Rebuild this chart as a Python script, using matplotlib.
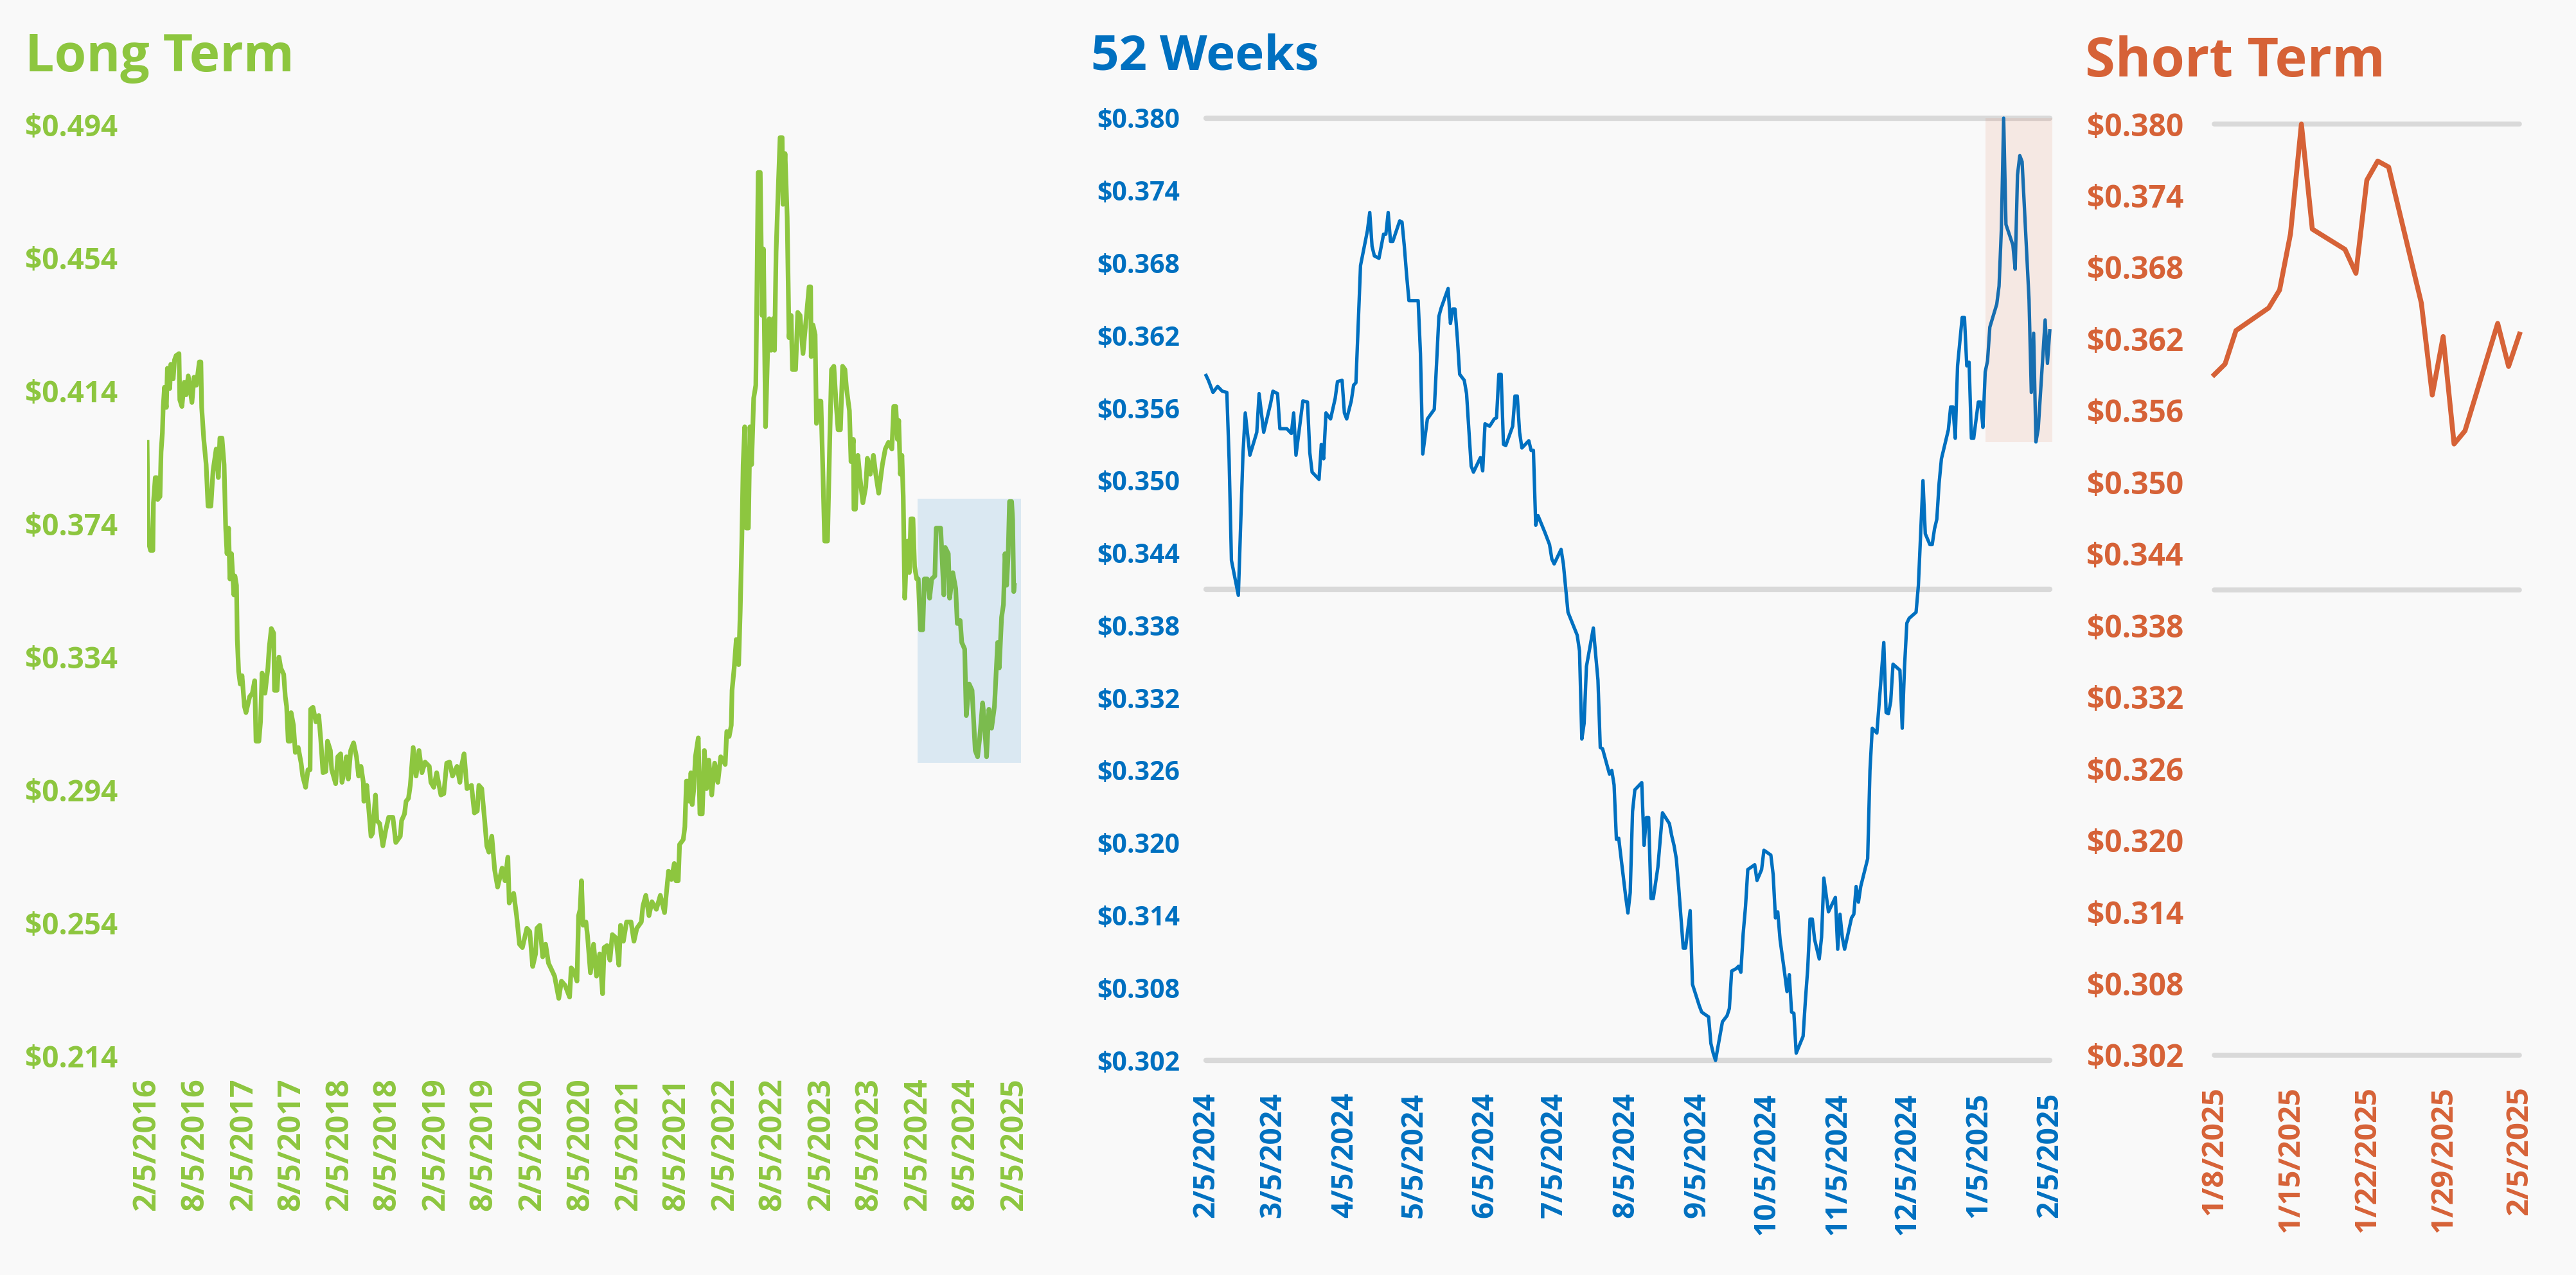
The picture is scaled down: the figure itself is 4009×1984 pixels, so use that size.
import matplotlib
matplotlib.use("Agg")
from matplotlib import pyplot as plt
import pandas as pd

GREEN = "#8DC63F"
BLUE = "#0070C0"
ORANGE = "#D66237"
GRID = "#D9D9D9"
BG = "#F9F9F9"

plt.rcParams['font.family'] = ['Open Sans', 'DejaVu Sans']
plt.rcParams['font.weight'] = 'bold'

# ---- long term: days after 2/5/2016 and price ----
lt_start = "2016-02-05"
lt_day = [0, 3, 7, 13, 22, 24, 31, 36, 40, 49, 53, 58, 61, 66, 73, 77, 86, 90, 99, 104,
          110, 121, 124, 132, 141, 148, 156, 170, 178, 187, 198, 204, 207, 215, 224, 231, 242, 250, 262, 270,
          276, 284, 292, 298, 303, 309, 314, 320, 329, 333, 339, 342, 347, 353, 360, 369, 375, 389, 399, 408,
          413, 424, 430, 436, 447, 458, 463, 471, 480, 483, 493, 500, 507, 518, 524, 529, 535, 543, 546, 555,
          562, 573, 584, 590, 601, 610, 618, 620, 629, 640, 651, 658, 667, 678, 684, 695, 700, 715, 723, 734,
          739, 748, 756, 763, 772, 783, 794, 802, 811, 820, 822, 833, 841, 849, 855, 866, 871, 882, 894, 905,
          916, 932, 943, 960, 965, 976, 982, 991, 998, 1009, 1020, 1031, 1042, 1054, 1070, 1076, 1087, 1098, 1114, 1125,
          1136, 1147, 1158, 1175, 1186, 1192, 1202, 1213, 1230, 1241, 1252, 1258, 1269, 1280, 1288, 1296, 1307, 1318, 1329, 1346,
          1357, 1368, 1373, 1390, 1401, 1412, 1423, 1440, 1451, 1462, 1473, 1478, 1489, 1500, 1511, 1522, 1534, 1545, 1561, 1571,
          1585, 1602, 1608, 1619, 1630, 1636, 1642, 1647, 1653, 1664, 1670, 1681, 1693, 1704, 1716, 1727, 1733, 1744, 1755, 1764,
          1778, 1789, 1795, 1806, 1818, 1835, 1846, 1857, 1874, 1880, 1891, 1903, 1914, 1931, 1946, 1962, 1969, 1977, 1988, 1999,
          2005, 2014, 2019, 2033, 2039, 2045, 2050, 2056, 2062, 2067, 2073, 2079, 2090, 2096, 2105, 2113, 2121, 2130, 2141, 2152,
          2164, 2175, 2184, 2192, 2198, 2207, 2215, 2218, 2226, 2234, 2243, 2249, 2255, 2260, 2266, 2272, 2280, 2286, 2292, 2300,
          2308, 2311, 2317, 2325, 2332, 2337, 2345, 2353, 2359, 2366, 2374, 2379, 2385, 2391, 2400, 2408, 2411, 2419, 2427, 2434,
          2442, 2447, 2459, 2467, 2476, 2487, 2498, 2510, 2516, 2518, 2525, 2533, 2538, 2547, 2555, 2563, 2569, 2580, 2589, 2595,
          2604, 2612, 2620, 2629, 2637, 2646, 2652, 2663, 2669, 2678, 2680, 2686, 2695, 2703, 2714, 2725, 2731, 2742, 2754, 2763,
          2774, 2788, 2799, 2811, 2824, 2831, 2839, 2845, 2850, 2856, 2862, 2867, 2873, 2879, 2884, 2890, 2896, 2904, 2910, 2918,
          2924, 2932, 2941, 2947, 2958, 2967, 2975, 2987, 2992, 3009, 3021, 3026, 3038, 3043, 3055, 3066, 3072, 3083, 3089, 3100,
          3106, 3117, 3128, 3140, 3149, 3157, 3168, 3174, 3183, 3192, 3202, 3213, 3225, 3231, 3240, 3247, 3253, 3259, 3265, 3270,
          3278, 3282, 3286, 3288]
lt_val = [0.3985, 0.3784, 0.3679, 0.3660, 0.3660, 0.3803, 0.3879, 0.3879, 0.3813, 0.3822, 0.3956, 0.4013, 0.4090, 0.4151, 0.4090, 0.4208, 0.4147, 0.4220, 0.4176, 0.4233,
          0.4246, 0.4252, 0.4113, 0.4093, 0.4166, 0.4128, 0.4185, 0.4105, 0.4181, 0.4157, 0.4227, 0.4227, 0.4090, 0.3994, 0.3918, 0.3793, 0.3793, 0.3899, 0.3965, 0.3879,
          0.3998, 0.3998, 0.3918, 0.3727, 0.3650, 0.3727, 0.3574, 0.3650, 0.3526, 0.3583, 0.3555, 0.3392, 0.3297, 0.3258, 0.3283, 0.3191, 0.3172, 0.3220, 0.3230, 0.3268,
          0.3086, 0.3086, 0.3144, 0.3291, 0.3230, 0.3306, 0.3367, 0.3425, 0.3411, 0.3239, 0.3239, 0.3339, 0.3306, 0.3287, 0.3220, 0.3191, 0.3086, 0.3086, 0.3172, 0.3134,
          0.3052, 0.3067, 0.3020, 0.2981, 0.2947, 0.3000, 0.3000, 0.3182, 0.3188, 0.3144, 0.3163, 0.3096, 0.2991, 0.2995, 0.3086, 0.3058, 0.3000, 0.2958, 0.3039, 0.3048,
          0.2962, 0.2997, 0.3039, 0.2972, 0.3058, 0.3081, 0.3039, 0.2981, 0.3010, 0.2962, 0.2905, 0.2953, 0.2876, 0.2800, 0.2809, 0.2924, 0.2847, 0.2838, 0.2771, 0.2819,
          0.2857, 0.2857, 0.2781, 0.2800, 0.2847, 0.2867, 0.2905, 0.2914, 0.2953, 0.3067, 0.2981, 0.3058, 0.2991, 0.3023, 0.3010, 0.2962, 0.2947, 0.2991, 0.2924, 0.2928,
          0.3020, 0.3023, 0.2981, 0.3010, 0.2962, 0.3010, 0.3048, 0.2943, 0.2953, 0.2870, 0.2876, 0.2953, 0.2943, 0.2847, 0.2771, 0.2752, 0.2800, 0.2698, 0.2647, 0.2704,
          0.2666, 0.2737, 0.2599, 0.2628, 0.2561, 0.2475, 0.2465, 0.2523, 0.2513, 0.2408, 0.2446, 0.2523, 0.2532, 0.2437, 0.2475, 0.2418, 0.2398, 0.2379, 0.2312, 0.2364,
          0.2351, 0.2316, 0.2404, 0.2393, 0.2364, 0.2561, 0.2580, 0.2666, 0.2532, 0.2542, 0.2500, 0.2389, 0.2475, 0.2379, 0.2446, 0.2326, 0.2465, 0.2471, 0.2427, 0.2504,
          0.2494, 0.2412, 0.2532, 0.2484, 0.2542, 0.2542, 0.2484, 0.2523, 0.2542, 0.2590, 0.2622, 0.2561, 0.2603, 0.2580, 0.2622, 0.2570, 0.2628, 0.2695, 0.2670, 0.2718,
          0.2666, 0.2666, 0.2775, 0.2790, 0.2828, 0.2966, 0.2966, 0.2905, 0.2991, 0.2895, 0.2943, 0.3039, 0.3096, 0.2867, 0.2867, 0.3058, 0.2943, 0.3029, 0.2924, 0.3020,
          0.2962, 0.3039, 0.3029, 0.3016, 0.3115, 0.3100, 0.3134, 0.3239, 0.3306, 0.3392, 0.3316, 0.3478, 0.3688, 0.3918, 0.4032, 0.3727, 0.3727, 0.4032, 0.3918, 0.4118,
          0.4157, 0.4357, 0.4797, 0.4797, 0.4367, 0.4567, 0.4032, 0.4262, 0.4357, 0.4262, 0.4357, 0.4262, 0.4558, 0.4701, 0.4902, 0.4902, 0.4701, 0.4854, 0.4663, 0.4300,
          0.4367, 0.4204, 0.4204, 0.4376, 0.4367, 0.4252, 0.4348, 0.4453, 0.4453, 0.4243, 0.4338, 0.4309, 0.4042, 0.4109, 0.4109, 0.3879, 0.3688, 0.3688, 0.4013, 0.4204,
          0.4214, 0.4109, 0.4023, 0.4023, 0.4214, 0.4204, 0.4147, 0.4080, 0.3927, 0.3994, 0.3784, 0.3784, 0.3946, 0.3879, 0.3803, 0.3851, 0.3937, 0.3889, 0.3946, 0.3889,
          0.3832, 0.3918, 0.3965, 0.3985, 0.3965, 0.4093, 0.4093, 0.3994, 0.4051, 0.3889, 0.3946, 0.3822, 0.3516, 0.3650, 0.3688, 0.3593, 0.3755, 0.3755, 0.3612, 0.3574,
          0.3574, 0.3421, 0.3421, 0.3574, 0.3574, 0.3516, 0.3574, 0.3583, 0.3727, 0.3727, 0.3526, 0.3669, 0.3650, 0.3516, 0.3593, 0.3545, 0.3440, 0.3449, 0.3383, 0.3363,
          0.3163, 0.3258, 0.3239, 0.3058, 0.3039, 0.3096, 0.3201, 0.3153, 0.3039, 0.3182, 0.3125, 0.3191, 0.3383, 0.3306, 0.3459, 0.3497, 0.3650, 0.3555, 0.3650, 0.3807,
          0.3807, 0.3751, 0.3536, 0.3555]
lt_ticks = ["2/5/2016", "8/5/2016", "2/5/2017", "8/5/2017", "2/5/2018", "8/5/2018", "2/5/2019",
            "8/5/2019", "2/5/2020", "8/5/2020", "2/5/2021", "8/5/2021", "2/5/2022", "8/5/2022",
            "2/5/2023", "8/5/2023", "2/5/2024", "8/5/2024", "2/5/2025"]
lt_yticks = [0.214, 0.254, 0.294, 0.334, 0.374, 0.414, 0.454, 0.494]

# ---- 52 weeks: days after 2/5/2024 (up to 1/7/2025) and price ----
wk_start = "2024-02-05"
wk_day = [0, 1, 3, 5, 7, 9, 10, 11, 14, 16, 17, 19, 22, 23, 25, 28, 29, 31, 32, 35,
          37, 38, 39, 42, 44, 45, 46, 49, 50, 51, 52, 54, 56, 57, 59, 60, 61, 63, 64, 65,
          67, 70, 71, 72, 73, 75, 77, 78, 79, 80, 81, 84, 85, 86, 87, 88, 92, 93, 94, 96,
          99, 101, 102, 105, 106, 107, 108, 109, 110, 112, 113, 115, 116, 119, 120, 121, 123, 125, 126, 127,
          128, 129, 130, 133, 134, 135, 136, 137, 140, 141, 142, 143, 144, 147, 149, 150, 151, 154, 155, 157,
          161, 162, 163, 164, 165, 168, 169, 170, 171, 172, 175, 176, 177, 178, 179, 182, 183, 184, 185, 186,
          189, 190, 191, 192, 193, 194, 196, 198, 201, 202, 203, 204, 205, 207, 208, 210, 211, 214, 215, 218,
          219, 220, 221, 224, 226, 227, 228, 230, 231, 232, 233, 234, 235, 238, 239, 241, 242, 245, 246, 247,
          248, 249, 251, 252, 253, 254, 255, 256, 259, 260, 261, 262, 263, 264, 266, 267, 268, 270, 273, 274,
          275, 276, 277, 280, 281, 282, 283, 284, 287, 288, 289, 291, 294, 295, 296, 297, 298, 301, 302, 303,
          304, 305, 308, 309, 311, 312, 314, 315, 316, 317, 318, 319, 322, 323, 324, 325, 326, 328, 329, 330,
          331, 332, 333, 335, 336, 337]
wk_val = [0.3587, 0.3583, 0.3573, 0.3578, 0.3574, 0.3573, 0.3517, 0.3434, 0.3405, 0.3522, 0.3556, 0.3521, 0.3540, 0.3572, 0.3540, 0.3564, 0.3574, 0.3572, 0.3543, 0.3543,
          0.3539, 0.3556, 0.3521, 0.3566, 0.3565, 0.3523, 0.3507, 0.3501, 0.3530, 0.3518, 0.3556, 0.3551, 0.3568, 0.3582, 0.3583, 0.3556, 0.3551, 0.3566, 0.3579, 0.3581,
          0.3678, 0.3707, 0.3722, 0.3694, 0.3686, 0.3684, 0.3704, 0.3704, 0.3722, 0.3698, 0.3698, 0.3715, 0.3714, 0.3694, 0.3670, 0.3649, 0.3649, 0.3605, 0.3522, 0.3551,
          0.3559, 0.3636, 0.3643, 0.3659, 0.3630, 0.3642, 0.3642, 0.3618, 0.3588, 0.3583, 0.3572, 0.3512, 0.3507, 0.3519, 0.3508, 0.3547, 0.3545, 0.3551, 0.3552, 0.3588,
          0.3588, 0.3530, 0.3529, 0.3545, 0.3570, 0.3570, 0.3540, 0.3527, 0.3533, 0.3525, 0.3525, 0.3463, 0.3471, 0.3457, 0.3447, 0.3435, 0.3431, 0.3443, 0.3431, 0.3391,
          0.3372, 0.3359, 0.3286, 0.3299, 0.3346, 0.3378, 0.3356, 0.3335, 0.3279, 0.3278, 0.3257, 0.3260, 0.3248, 0.3203, 0.3204, 0.3156, 0.3142, 0.3159, 0.3226, 0.3244,
          0.3250, 0.3198, 0.3221, 0.3221, 0.3154, 0.3154, 0.3180, 0.3225, 0.3216, 0.3206, 0.3198, 0.3187, 0.3164, 0.3113, 0.3113, 0.3144, 0.3083, 0.3065, 0.3060, 0.3056,
          0.3034, 0.3026, 0.3020, 0.3052, 0.3057, 0.3063, 0.3094, 0.3096, 0.3098, 0.3093, 0.3125, 0.3147, 0.3178, 0.3182, 0.3169, 0.3178, 0.3194, 0.3190, 0.3174, 0.3138,
          0.3143, 0.3120, 0.3092, 0.3077, 0.3091, 0.3060, 0.3059, 0.3026, 0.3040, 0.3070, 0.3096, 0.3137, 0.3137, 0.3120, 0.3104, 0.3122, 0.3171, 0.3143, 0.3155, 0.3112,
          0.3141, 0.3122, 0.3112, 0.3138, 0.3141, 0.3164, 0.3151, 0.3164, 0.3187, 0.3260, 0.3295, 0.3291, 0.3366, 0.3308, 0.3307, 0.3317, 0.3348, 0.3343, 0.3295, 0.3346,
          0.3382, 0.3386, 0.3391, 0.3413, 0.3500, 0.3456, 0.3447, 0.3447, 0.3460, 0.3468, 0.3498, 0.3518, 0.3542, 0.3561, 0.3561, 0.3535, 0.3595, 0.3635, 0.3635, 0.3595,
          0.3598, 0.3535, 0.3535, 0.3565, 0.3565, 0.3544]
wk_ticks = ["2/5/2024", "3/5/2024", "4/5/2024", "5/5/2024", "6/5/2024", "7/5/2024", "8/5/2024",
            "9/5/2024", "10/5/2024", "11/5/2024", "12/5/2024", "1/5/2025", "2/5/2025"]
wk_yticks = [0.302, 0.308, 0.314, 0.320, 0.326, 0.332, 0.338, 0.344, 0.350, 0.356, 0.362, 0.368, 0.374, 0.380]

# ---- short term ----
st_dates = ["2025-01-08", "2025-01-09", "2025-01-10", "2025-01-13", "2025-01-14", "2025-01-15", "2025-01-16",
            "2025-01-17", "2025-01-20", "2025-01-21", "2025-01-22", "2025-01-23", "2025-01-24", "2025-01-27",
            "2025-01-28", "2025-01-29", "2025-01-30", "2025-01-31", "2025-02-03", "2025-02-04", "2025-02-05"]
st_val = [0.3590, 0.3599, 0.3627, 0.3646, 0.3661, 0.3708, 0.3800, 0.3712, 0.3695, 0.3675, 0.3753,
          0.3769, 0.3764, 0.3650, 0.3573, 0.3622, 0.3532, 0.3543, 0.3633, 0.3597, 0.3624]
st_ticks = ["1/8/2025", "1/15/2025", "1/22/2025", "1/29/2025", "2/5/2025"]

lt_x = pd.Timestamp(lt_start) + pd.to_timedelta(lt_day, unit="D")
st_x = pd.to_datetime(st_dates)
wk_x = (pd.Timestamp(wk_start) + pd.to_timedelta(wk_day, unit="D")).append(st_x)
wk_y = wk_val + st_val

hi = max(wk_y)
lo = min(wk_y)
mid = (hi + lo) / 2

fig = plt.figure(figsize=(40.09, 19.84), dpi=100, facecolor=BG)


def style(ax, color, ysize, xsize, ypad, xpad):
    ax.set_facecolor(BG)
    for s in ax.spines.values():
        s.set_visible(False)
    ax.tick_params(axis="both", length=0, colors=color)
    ax.tick_params(axis="y", labelsize=ysize, pad=ypad)
    ax.tick_params(axis="x", labelsize=xsize, pad=xpad, labelrotation=90)
    ax.yaxis.set_major_formatter(plt.FuncFormatter(lambda v, p: "${:.3f}".format(v)))
    for t in ax.get_xticklabels() + ax.get_yticklabels():
        t.set_fontweight("bold")


# long term
ax1 = fig.add_axes([0.0571, 0.1721, 0.3395, 0.7299])
ax1.plot(lt_x, lt_val, color=GREEN, lw=5.2, solid_joinstyle="round", zorder=2)
ax1.fill_between([wk_x[0], wk_x[-1] + pd.Timedelta(days=25)], lo, hi + 0.0015,
                 color=BLUE, alpha=0.12, lw=0, zorder=3)
ax1.set_xlim(pd.Timestamp(lt_start), pd.Timestamp("2025-03-05"))
ax1.set_ylim(lt_yticks[0], lt_yticks[-1])
ax1.set_yticks(lt_yticks)
ax1.set_xticks(pd.to_datetime(lt_ticks, format="%m/%d/%Y"))
ax1.set_xticklabels(lt_ticks)
style(ax1, GREEN, 33, 35, 33, 25)

# 52 weeks
ax2 = fig.add_axes([0.4682, 0.1683, 0.3302, 0.7390])
for v in (hi, mid, lo):
    ax2.plot([wk_x[0], wk_x[-1]], [v, v], color=GRID, lw=6, solid_capstyle="round", zorder=1, clip_on=False)
ax2.plot(wk_x, wk_y, color=BLUE, lw=3.8, solid_joinstyle="round", zorder=2, clip_on=False)
ax2.fill_between([st_x[0], st_x[-1] + pd.Timedelta(days=1)], min(st_val), max(st_val),
                 color=ORANGE, alpha=0.11, lw=0, zorder=3)
ax2.set_xlim(pd.Timestamp(wk_start), pd.Timestamp("2025-02-08"))
ax2.set_ylim(wk_yticks[0], wk_yticks[-1])
ax2.set_yticks(wk_yticks)
ax2.set_xticks(pd.to_datetime(wk_ticks, format="%m/%d/%Y"))
ax2.set_xticklabels(wk_ticks)
style(ax2, BLUE, 29.5, 33, 29.5, 36)

# short term
ax3 = fig.add_axes([0.8583, 0.1724, 0.1210, 0.7303])
for v in (hi, mid, lo):
    ax3.plot([st_x[0], st_x[-1]], [v, v], color=GRID, lw=5.5, solid_capstyle="round", zorder=1, clip_on=False)
ax3.plot(st_x, st_val, color=ORANGE, lw=5.5, solid_joinstyle="round", zorder=2, clip_on=False)
ax3.set_xlim(st_x[0] - pd.Timedelta(hours=7), st_x[-1] + pd.Timedelta(hours=7))
ax3.set_ylim(wk_yticks[0], wk_yticks[-1])
ax3.set_yticks(wk_yticks)
ax3.set_xticks(pd.to_datetime(st_ticks, format="%m/%d/%Y"))
ax3.set_xticklabels(st_ticks)
style(ax3, ORANGE, 34.5, 34, 31, 35)

fig.text(0.0097, 0.9441, "Long Term", color=GREEN, fontsize=58, fontweight="bold", va="baseline")
fig.text(0.4235, 0.9451, "52 Weeks", color=BLUE, fontsize=55, fontweight="bold", va="baseline")
fig.text(0.8094, 0.9398, "Short Term", color=ORANGE, fontsize=61, fontweight="bold", va="baseline")

fig.savefig("out.png", dpi=100, facecolor=BG)
